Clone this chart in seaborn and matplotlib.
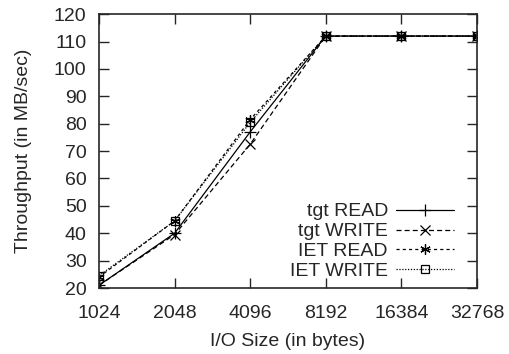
import numpy as np
import matplotlib
matplotlib.use("Agg")
import matplotlib.pyplot as plt
import pandas as pd
import seaborn as sns

sns.set_style("ticks")
plt.rcParams['font.family'] = ['Liberation Sans', 'DejaVu Sans']
plt.rcParams['font.size'] = 14

io_sizes = [1024, 2048, 4096, 8192, 16384, 32768]
tgt_read = [21, 40, 77, 112, 112, 112]
tgt_write = [21, 39.5, 72.5, 112, 112, 112]
iet_read = [24, 44.5, 81.5, 112, 112, 112]
iet_write = [24.5, 44.5, 80.5, 112, 112, 112]

series = {
    "tgt READ": tgt_read,
    "tgt WRITE": tgt_write,
    "IET READ": iet_read,
    "IET WRITE": iet_write,
}
styles = {
    "tgt READ": dict(linestyle="-", marker="+", markersize=8),
    "tgt WRITE": dict(linestyle=(0, (4, 2.5)), marker="x", markersize=6.5),
    "IET READ": dict(linestyle=(0, (2.5, 2.5)), marker=(6, 2, 0), markersize=7.5),
    "IET WRITE": dict(linestyle=(0, (1, 1.3)), marker="s", markersize=6),
}

fig = plt.figure(figsize=(5.09, 3.54), dpi=100)
ax = fig.add_axes([0.1945, 0.1864, 0.7425, 0.7736])

for name, vals in series.items():
    df = pd.DataFrame({"size": io_sizes, "mbps": vals})
    sns.lineplot(data=df, x="size", y="mbps", ax=ax, color="black", linewidth=0.9,
                 markerfacecolor="none", markeredgecolor="black", markeredgewidth=0.9,
                 label=name, **styles[name])

ax.set_xscale("log", base=2)
ax.set_xlim(io_sizes[0], io_sizes[-1])
ax.set_xticks(io_sizes)
ax.set_xticklabels([str(s) for s in io_sizes])
ax.minorticks_off()
ax.set_ylim(20, 120)
ax.set_yticks(np.arange(20, 121, 10))
ax.tick_params(direction="in", top=True, right=True, length=7, width=1, labelsize=14)
ax.tick_params(axis="x", pad=12)
ax.tick_params(axis="y", pad=9)
for sp in ax.spines.values():
    sp.set_linewidth(1.2)

ax.set_xlabel("I/O Size (in bytes)", fontsize=14, labelpad=8)
ax.set_ylabel("Throughput (in MB/sec)", fontsize=14, labelpad=16)

ax.legend(loc="lower right", frameon=False, markerfirst=False, handlelength=3.0,
          fontsize=14, labelspacing=0.12, borderaxespad=0.2, borderpad=0.2,
          handletextpad=0.4, bbox_to_anchor=(0.96, 0.0))

fig.savefig("out.png", dpi=100)
